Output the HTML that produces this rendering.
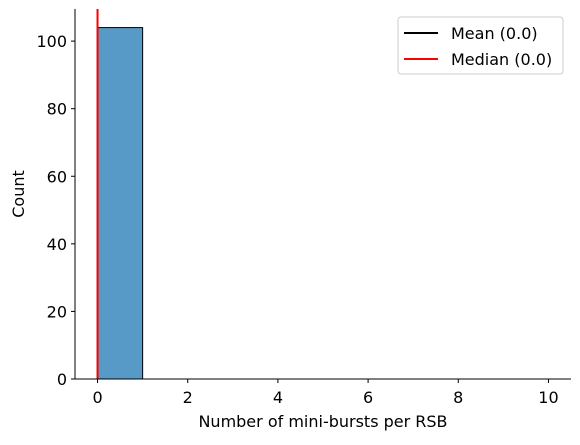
<!DOCTYPE html>
<html><head><meta charset="utf-8"><style>
body{margin:0;background:#fff;}
svg text{font-family:"DejaVu Sans","Liberation Sans",sans-serif;fill:#000;}
</style></head><body>
<svg id="chart" width="580" height="440" xmlns="http://www.w3.org/2000/svg"></svg>
<script>
const binEdges=[0,1];
const binCounts=[104];
const xTicks=[0,2,4,6,8,10];
const yTicks=[0,20,40,60,80,100];
const meanVal=[0.0];
const medianVal=[0.0];
const legendLabels=["Mean (0.0)","Median (0.0)"];
const NS="http://www.w3.org/2000/svg";
const svg=document.getElementById('chart');
const X0=75,X1=571,Y0=379,Y1=9;
const xMin=-0.5,xMax=10.5,yMin=0,yMax=109.5;
const sx=v=>X0+(v-xMin)/(xMax-xMin)*(X1-X0);
const sy=v=>Y0-(v-yMin)/(yMax-yMin)*(Y0-Y1);
function mk(t,a,txt){const e=document.createElementNS(NS,t);for(const k in a)e.setAttribute(k,a[k]);if(txt!==undefined)e.textContent=txt;svg.appendChild(e);return e;}
binCounts.forEach((c,i)=>{
 const r=mk('rect',{x:sx(binEdges[i]),y:sy(c),width:sx(binEdges[i+1])-sx(binEdges[i]),height:sy(0)-sy(c),fill:'#5799c7',stroke:'#000','stroke-width':1});
 
 
});
const ml=mk('line',{x1:sx(meanVal[0]),x2:sx(meanVal[0]),y1:Y1,y2:Y0,stroke:'#000','stroke-width':1.5});


const dl=mk('line',{x1:sx(medianVal[0]),x2:sx(medianVal[0]),y1:Y1,y2:Y0,stroke:'#f00','stroke-width':2});


const ax=mk('line',{x1:X0,x2:X0,y1:Y1,y2:Y0,stroke:'#000','stroke-width':1});


const bx=mk('line',{x1:X0,x2:X1,y1:Y0,y2:Y0,stroke:'#000','stroke-width':1});


xTicks.forEach(t=>{
 const x=sx(t);
 mk('line',{x1:x,x2:x,y1:Y0,y2:Y0+4,stroke:'#000'});
 const l=mk('text',{x:x,y:Y0+24,'text-anchor':'middle','font-size':16},String(t));
 
 
});
yTicks.forEach(t=>{
 const y=sy(t);
 mk('line',{x1:X0-4,x2:X0,y1:y,y2:y,stroke:'#000'});
 const l=mk('text',{x:X0-8,y:y+6,'text-anchor':'end','font-size':16},String(t));
 
 
});
const xt=mk('text',{x:(X0+X1)/2,y:427,'text-anchor':'middle','font-size':16},'Number of mini-bursts per RSB');


const yt=mk('text',{x:24,y:(Y0+Y1)/2,'text-anchor':'middle','font-size':16,transform:`rotate(-90 24 ${(Y0+Y1)/2})`},'Count');


const lb=mk('rect',{x:398,y:17,width:165,height:57,rx:3,fill:'#fff',stroke:'#ccc'});


const cols=['#000','#f00'];
legendLabels.forEach((s,i)=>{
 const y=33+i*26;
 mk('line',{x1:404,x2:438,y1:y,y2:y,stroke:cols[i],'stroke-width':2});
 const t=mk('text',{x:451,y:y+6,'font-size':16},s);
 
 
});
</script>
</body></html>
